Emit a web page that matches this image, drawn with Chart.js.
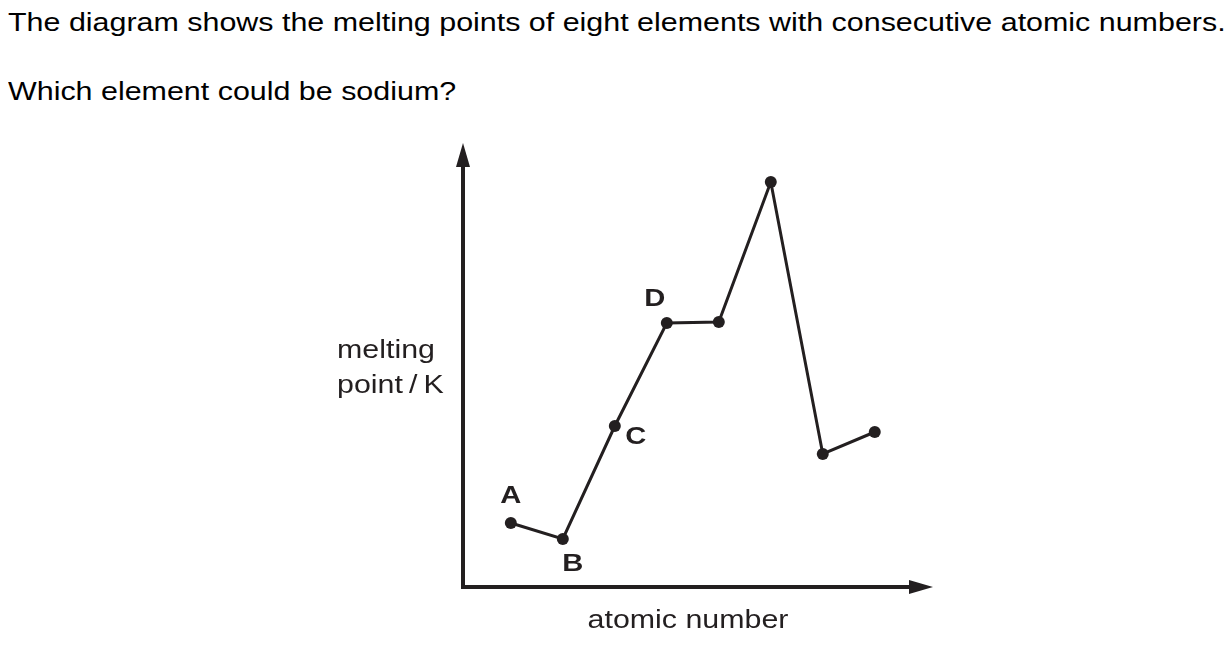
<!DOCTYPE html>
<html>
<head>
<meta charset="utf-8">
<script src="https://cdn.jsdelivr.net/npm/chart.js@4/dist/chart.umd.min.js"></script>
<style>
  html, body { margin: 0; padding: 0; background: #fff; }
  body { width: 1232px; height: 648px; position: relative; overflow: hidden; font-family: "Liberation Sans", Arial, sans-serif; }
  .q { position: absolute; left: 8px; font-size: 25px; color: #000; white-space: nowrap; line-height: 1; transform: scaleX(1.217); transform-origin: 0 0; }
  #c { position: absolute; left: 0; top: 0; }
</style>
</head>
<body>
<div class="q" id="q1" style="top:10px;">The diagram shows the melting points of eight elements with consecutive atomic numbers.</div>
<div class="q" id="q2" style="top:79px;">Which element could be sodium?</div>
<canvas id="c" width="1232" height="648"></canvas>
<script>
// Data (arbitrary melting-point units, relative heights)
const atomicIndex = [1, 2, 3, 4, 5, 6, 7, 8];
const meltingPoint = [256, 192, 644, 1056, 1060, 1620, 532, 620];
const pointLabels = ["A", "B", "C", "D", "", "", "", ""];
const yAxisTitle = ["melting", "point\u2009/\u2009K"];
const xAxisTitle = "atomic number";

const INK = "#231f20";
const STRETCH = 1.215;
const labelOffsets = { A: [0, -27], B: [10, 25], C: [21, 11], D: [-12, -24] };

function stretchedText(ctx, text, x, y) {
  ctx.save();
  ctx.translate(x, y);
  ctx.scale(STRETCH, 1);
  ctx.fillText(text, 0, 0);
  ctx.restore();
}

const axesPlugin = {
  id: "arrowAxes",
  afterDraw(chart) {
    const ctx = chart.ctx;
    const a = chart.chartArea;
    const x0 = a.left, y0 = a.bottom;
    ctx.save();
    ctx.strokeStyle = INK;
    ctx.fillStyle = INK;
    ctx.lineWidth = 4;
    ctx.lineCap = "butt";
    // y axis
    ctx.beginPath();
    ctx.moveTo(x0, y0 + 2);
    ctx.lineTo(x0, a.top + 20);
    ctx.stroke();
    // x axis
    ctx.beginPath();
    ctx.moveTo(x0 - 2, y0);
    ctx.lineTo(a.right - 20, y0);
    ctx.stroke();
    // arrowheads
    ctx.beginPath();
    ctx.moveTo(x0, a.top);
    ctx.lineTo(x0 - 7, a.top + 24);
    ctx.lineTo(x0 + 7, a.top + 24);
    ctx.closePath();
    ctx.fill();
    ctx.beginPath();
    ctx.moveTo(a.right, y0);
    ctx.lineTo(a.right - 24, y0 - 7);
    ctx.lineTo(a.right - 24, y0 + 7);
    ctx.closePath();
    ctx.fill();

    // axis titles
    ctx.font = '25px "Liberation Sans", Arial, sans-serif';
    ctx.textBaseline = "middle";
    ctx.textAlign = "left";
    stretchedText(ctx, yAxisTitle[0], 337, 351);
    stretchedText(ctx, yAxisTitle[1], 337, 386);
    ctx.textAlign = "center";
    stretchedText(ctx, xAxisTitle, 688, 621);

    // point labels
    const meta = chart.getDatasetMeta(0);
    ctx.font = 'bold 24px "Liberation Sans", Arial, sans-serif';
    ctx.textAlign = "center";
    meta.data.forEach((pt, i) => {
      const lab = pointLabels[i];
      if (!lab) return;
      const off = labelOffsets[lab];
      stretchedText(ctx, lab, pt.x + off[0], pt.y + off[1]);
    });
    ctx.restore();
  }
};

new Chart(document.getElementById("c"), {
  type: "line",
  data: {
    datasets: [{
      data: atomicIndex.map((x, i) => ({ x: x, y: meltingPoint[i] })),
      borderColor: INK,
      backgroundColor: INK,
      borderWidth: 3,
      pointRadius: 6,
      pointBackgroundColor: INK,
      pointBorderWidth: 0,
      tension: 0,
      fill: false
    }]
  },
  options: {
    responsive: false,
    devicePixelRatio: 1,
    animation: false,
    layout: { padding: { left: 463, right: 299, top: 143, bottom: 61 } },
    plugins: { legend: { display: false }, tooltip: { enabled: false }, title: { display: false } },
    scales: {
      x: { type: "linear", min: 0.08, max: 9.12, display: false },
      y: { type: "linear", min: 0, max: 1776, display: false }
    }
  },
  plugins: [axesPlugin]
});
</script>
</body>
</html>
